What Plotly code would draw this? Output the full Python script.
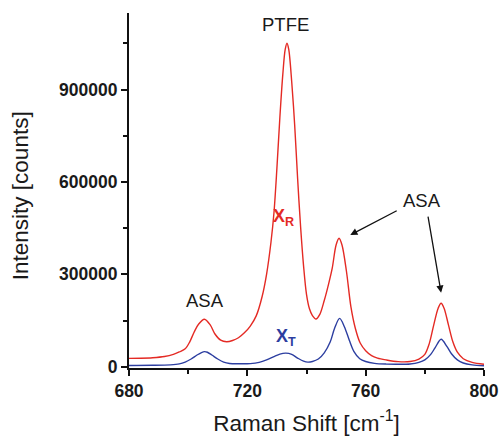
import plotly.graph_objects as go

# Raman spectra: reflection (X_R) and transmission (X_T) geometry
shift_r = [680, 684, 688, 692, 695, 697, 699, 700.5, 702, 703.5, 705.5, 707.5, 709, 711, 713,
           715, 717, 719, 721, 723, 725, 726.5, 728, 729, 730, 731, 732, 732.8, 733.4, 734,
           735, 736, 737, 738, 739, 740, 741, 742, 743.2, 744.5, 746, 747.5, 748.7, 750, 751,
           752, 753.5, 755, 756.5, 758.2, 760, 762, 764, 767, 771, 775, 778, 780, 781.5,
           783, 784.5, 785.5, 786.5, 788, 789.5, 791, 793, 796, 800]
counts_r = [27000, 27500, 29000, 33000, 40000, 48000, 58000, 80000, 112000, 138000, 154000,
            135000, 107000, 86000, 81000, 85000, 94000, 110000, 132000, 165000, 228000,
            300000, 405000, 500000, 645000, 810000, 950000, 1030000, 1050000, 1030000,
            925000, 785000, 610000, 455000, 328000, 235000, 188000, 166000, 155000, 170000,
            215000, 270000, 320000, 395000, 417000, 395000, 310000, 195000, 125000, 76000,
            52000, 36000, 28000, 22000, 16500, 17000, 25000, 40000, 75000, 135000, 190000,
            206000, 190000, 135000, 80000, 47000, 26000, 14000, 8000]

shift_t = [680, 688, 694, 697, 699, 701, 703, 704.5, 705.5, 706.5, 708, 710, 712, 714, 717,
           721, 724, 726.5, 729, 731, 733, 735, 737, 739, 740.5, 742, 744, 746, 748, 749.5,
           751.2, 752.8, 754.5, 756, 758, 760, 763, 767, 771, 775, 778, 780, 782, 783.5,
           785.5, 787.5, 789, 791, 793, 796, 800]
counts_t = [4000, 4500, 6000, 9000, 15000, 25000, 38000, 46000, 49000, 47000, 38000, 25000,
            15000, 10500, 9500, 10000, 14000, 22000, 33000, 41000, 44000, 40000, 28000,
            18000, 15000, 17000, 25000, 45000, 80000, 125000, 157000, 130000, 85000, 50000,
            26000, 17000, 11000, 8500, 8000, 9000, 14000, 22000, 40000, 62000, 89000, 65000,
            42000, 22000, 12000, 6000, 3000]

x_ticks = [680, 720, 760, 800]
x_tick_text = ["<b>680</b>", "<b>720</b>", "<b>760</b>", "<b>800</b>"]
y_ticks = [0, 300000, 600000, 900000]
y_tick_text = ["<b>0</b>", "<b>300000</b>", "<b>600000</b>", "<b>900000</b>"]

RED = "rgb(228,42,36)"
BLUE = "rgb(44,62,160)"
INK = "#1a1a1a"
FONT = "Liberation Sans, Arial, Helvetica, sans-serif"

fig = go.Figure()
fig.add_trace(go.Scatter(x=shift_r, y=counts_r, mode="lines",
                         line=dict(color=RED, width=1.4, shape="spline", smoothing=0.9),
                         showlegend=False))
fig.add_trace(go.Scatter(x=shift_t, y=counts_t, mode="lines",
                         line=dict(color=BLUE, width=1.4, shape="spline", smoothing=0.9),
                         showlegend=False))

annotations = [
    dict(x=733, y=1110000, text="PTFE", showarrow=False,
         font=dict(size=18.5, color=INK, family=FONT)),
    dict(x=705.7, y=216000, text="ASA", showarrow=False,
         font=dict(size=18.5, color=INK, family=FONT)),
    dict(x=779.2, y=541000, text="ASA", showarrow=False,
         font=dict(size=18.5, color=INK, family=FONT)),
    dict(x=732.3, y=485000, text="<b>X</b><sub><b>R</b></sub>", showarrow=False,
         font=dict(size=18, color=RED, family=FONT)),
    dict(x=732.9, y=96000, text="<b>X</b><sub><b>T</b></sub>", showarrow=False,
         font=dict(size=18, color=BLUE, family=FONT)),
    # arrows from the right-hand ASA label to its two peaks
    dict(x=754.8, y=427600, ax=771.0, ay=508800, axref="x", ayref="y",
         text="", showarrow=True, arrowhead=2, arrowsize=1.1, arrowwidth=1.3,
         arrowcolor="#111111", standoff=0),
    dict(x=785.5, y=240300, ax=781.0, ay=492500, axref="x", ayref="y",
         text="", showarrow=True, arrowhead=2, arrowsize=1.1, arrowwidth=1.3,
         arrowcolor="#111111", standoff=0),
    # vertical axis title
    dict(x=-0.306, y=0.485, xref="paper", yref="paper", text="Intensity [counts]",
         textangle=-90, showarrow=False, xanchor="center", yanchor="middle",
         font=dict(size=22.5, color=INK, family=FONT)),
]

fig.update_layout(
    width=500, height=437,
    margin=dict(l=129, r=16, t=13, b=69),
    paper_bgcolor="white", plot_bgcolor="white",
    font=dict(family=FONT, color=INK),
    annotations=annotations,
    xaxis=dict(
        range=[680, 800], tickvals=x_ticks, ticktext=x_tick_text, ticks="outside",
        ticklen=6, tickwidth=1.5, tickcolor="#111111", showline=True,
        linecolor="#111111", linewidth=2, showgrid=False, zeroline=False,
        automargin=False,
        tickfont=dict(size=17.5, family=FONT, color=INK),
        minor=dict(dtick=20, tick0=680, ticks="outside", ticklen=4, tickwidth=1.5,
                   tickcolor="#111111", showgrid=False),
        title=dict(text="Raman Shift [cm<sup>-1</sup>]", standoff=15,
                   font=dict(size=22.5, family=FONT, color=INK)),
    ),
    yaxis=dict(
        range=[-4200, 1148400], tickvals=y_ticks, ticktext=y_tick_text, ticks="outside",
        ticklen=6, tickwidth=1.5, tickcolor="#111111", showline=True, linecolor="#111111",
        linewidth=2, showgrid=False, zeroline=False, automargin=False,
        tickfont=dict(size=17.5, family=FONT, color=INK),
        minor=dict(dtick=150000, tick0=0, ticks="outside", ticklen=4, tickwidth=1.5,
                   tickcolor="#111111", showgrid=False),
    ),
)

fig.write_html("out.html")
